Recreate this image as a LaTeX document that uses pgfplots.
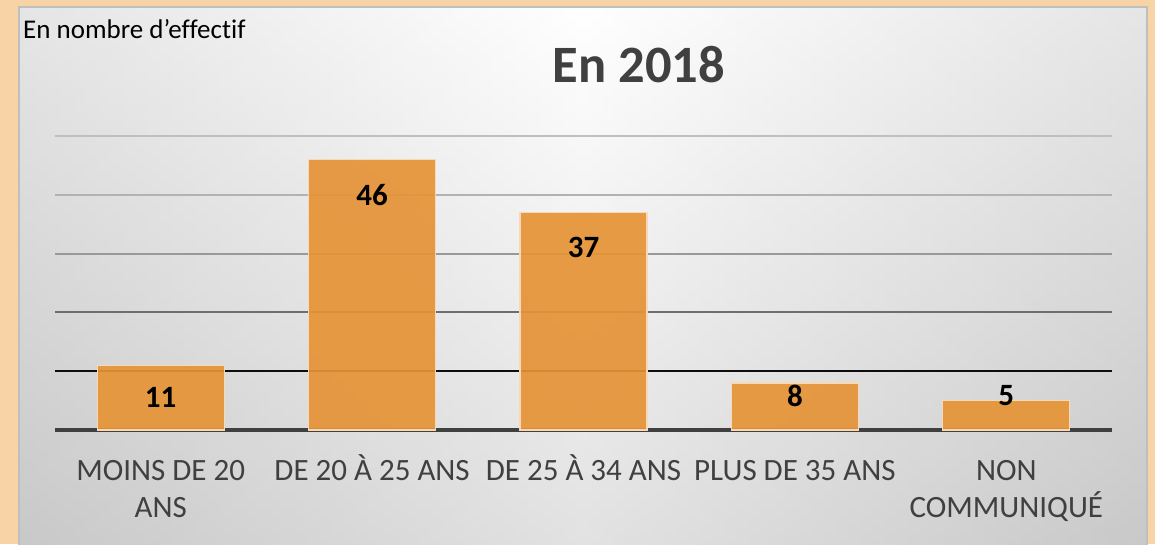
\documentclass[border=0pt]{standalone}
\usepackage{fontspec}
\setmainfont[Ligatures=NoCommon]{Carlito}
\usepackage{pgfplots}
\pgfplotsset{compat=1.18}
\definecolor{peach}{HTML}{F8D3A6}
\definecolor{barc}{HTML}{E69336}
\definecolor{txt}{HTML}{404040}
\newcommand\fl{\rule{0pt}{26pt}}
\begin{document}
\begin{tikzpicture}[x=1pt,y=1pt]
\useasboundingbox (0,0) rectangle (1155,544);
\fill[peach] (0,0) rectangle (1155,544);
\shade[left color=black!18, right color=black!18, middle color=white] (19,0) rectangle (1147,537);
\shade[top color=white, bottom color=black!25, opacity=0.45] (19,0) rectangle (1147,537);
\draw[black!25, line width=1.5] (19,-2) -- (19,537) -- (1147,537) -- (1147,-2);
\node[anchor=base west, inner sep=0, font=\fontsize{27}{32}\selectfont, text=black] at (23,505) {En nombre d’effectif};
\node[anchor=base, inner sep=0, font=\fontsize{52.5}{62}\selectfont\bfseries, text=txt] at (639,461) {En 2018};
\begin{axis}[
  at={(55pt,114pt)}, anchor=south west,
  scale only axis, width=1057pt, height=294pt,
  xmin=-0.5, xmax=4.5, ymin=0, ymax=50,
  clip=false,
  axis x line*=bottom, axis y line=none,
  x axis line style={draw=txt, line width=4pt, -},
  xtick={0,1,2,3,4},
  xticklabels={{\fl MOINS DE 20\\ANS},{\fl DE 20 À 25 ANS},{\fl DE 25 À 34 ANS},{\fl PLUS DE 35 ANS},{\fl NON\\COMMUNIQUÉ}},
  xtick style={draw=none},
  ytick=\empty,
  xticklabel style={font=\fontsize{31}{37}\selectfont, text=txt, align=center, anchor=north, inner sep=0pt, yshift=-24pt},
]
\draw[black!25, line width=2pt] (axis cs:-0.5,50) -- (axis cs:4.5,50);
\draw[black!30, line width=2pt] (axis cs:-0.5,40) -- (axis cs:4.5,40);
\draw[black!40, line width=2pt] (axis cs:-0.5,30) -- (axis cs:4.5,30);
\draw[black!57, line width=2pt] (axis cs:-0.5,20) -- (axis cs:4.5,20);
\draw[black!95, line width=2pt] (axis cs:-0.5,10) -- (axis cs:4.5,10);
\addplot[ybar, bar width=0.6, fill=barc, fill opacity=0.92, draw=barc!35!white, line width=1.2pt]
  coordinates {(0,11) (1,46) (2,37) (3,8) (4,5)};
\addplot[only marks, mark=none, nodes near coords, point meta=explicit symbolic,
  nodes near coords style={font=\fontsize{31}{37}\selectfont\bfseries, text=black, anchor=center}]
  table[meta=l] {
x y l
0 5.6 11
1 39.9 46
2 31.0 37
3 5.8 8
4 5.8 5
};
\end{axis}
\end{tikzpicture}
\end{document}
